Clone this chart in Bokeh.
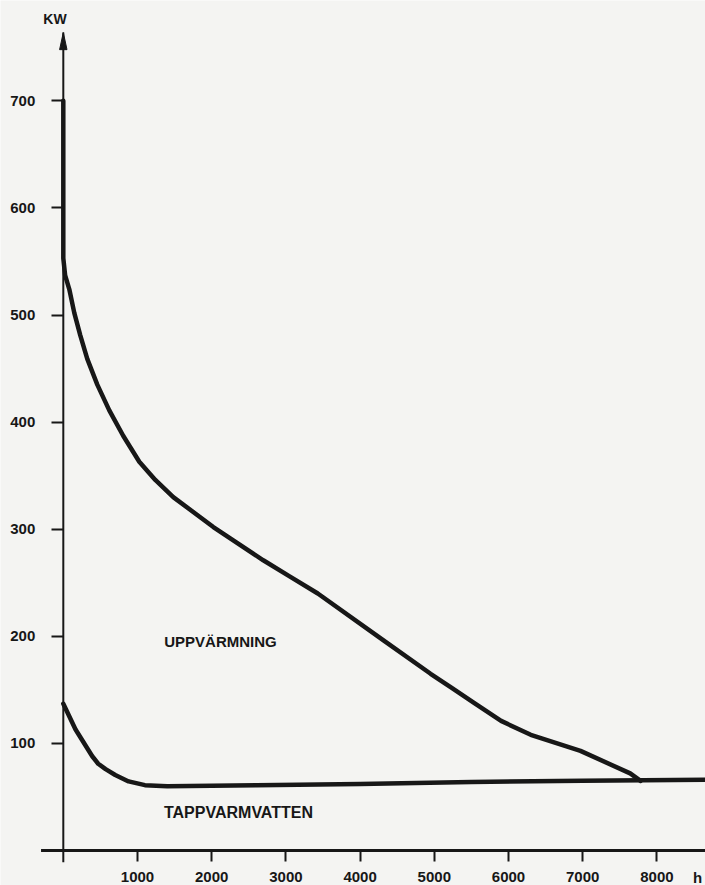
from bokeh.plotting import figure
from bokeh.models import LinearAxis, FixedTicker, Range1d, Label
from bokeh.embed import file_html
from bokeh.resources import INLINE

# --- data (hours per year vs. kW) ---
heat_hours = [0, 0, 25, 81, 148, 229, 323, 458, 620, 809, 1024, 1240, 1482, 2022,
              2695, 3050, 3430, 4320, 4950, 5230, 5530, 5900, 6300, 6970, 7640, 7780]
heat_kw = [700, 553, 537, 524, 502, 481, 459, 435, 411, 387, 363, 346, 330, 302,
           271, 256, 240, 196, 165, 152, 138, 121, 108, 93, 72, 65]

water_hours = [0, 165, 390, 470, 570, 700, 880, 1100, 1400, 2600, 4000, 5500, 7000, 8760]
water_kw = [137, 113, 88, 81, 76, 70.5, 64.5, 61, 60, 61, 62, 64, 65, 66]

x_ticks = [1000, 2000, 3000, 4000, 5000, 6000, 7000, 8000]
y_ticks = [100, 200, 300, 400, 500, 600, 700]

x_unit = "h"
y_unit = "KW"
heat_label = "UPPVÄRMNING"
water_label = "TAPPVARMVATTEN"

INK = "#171717"
PAPER = "#f4f4f2"

W, H = 705, 885
x_start, x_end = -846.4, 8655
y_start, y_end = -32.7, 793.7
x_axis_from = -300      # where the drawn x axis begins (left overshoot)
y_axis_from = -11       # where the drawn y axis begins (bottom overshoot)
y_axis_tip = 763.8      # top of the arrow

p = figure(width=W, height=H, output_backend="svg", toolbar_location=None,
           x_range=Range1d(x_start, x_end), y_range=Range1d(y_start, y_end),
           x_axis_type=None, y_axis_type=None, title=None,
           min_border_left=0, min_border_right=0, min_border_top=0, min_border_bottom=0)
p.outline_line_color = None
p.background_fill_color = PAPER
p.border_fill_color = PAPER

# axes crossing at the origin (ticks and labels from Bokeh; lines drawn below)
xaxis = LinearAxis(fixed_location=0, ticker=FixedTicker(ticks=x_ticks))
yaxis = LinearAxis(fixed_location=0, ticker=FixedTicker(ticks=y_ticks))
for ax in (xaxis, yaxis):
    ax.axis_line_color = None
    ax.major_tick_line_color = INK
    ax.major_tick_line_width = 2
    ax.major_tick_in = 0
    ax.minor_tick_in = 0
    ax.minor_tick_out = 0
    ax.major_label_text_font = "Liberation Sans"
    ax.major_label_text_font_style = "bold"
    ax.major_label_text_color = INK
xaxis.major_tick_out = 11
xaxis.major_label_standoff = 11
xaxis.major_label_text_font_size = "15px"
yaxis.major_tick_out = 12
yaxis.major_label_standoff = 16
yaxis.major_label_text_font_size = "15px"
p.add_layout(xaxis, "below")
p.add_layout(yaxis, "left")

# axis lines
p.segment(x0=[x_axis_from], y0=[0], x1=[x_end], y1=[0], line_color=INK, line_width=3)
p.segment(x0=[0], y0=[y_axis_from], x1=[0], y1=[y_axis_tip], line_color=INK, line_width=2)

# arrow head on the y axis
head_len = 16.0
head_half = 50.0
p.patch([0, -head_half, head_half], [y_axis_tip, y_axis_tip - head_len, y_axis_tip - head_len],
        fill_color=INK, line_color=INK, line_width=1)

# curves
p.line(heat_hours, heat_kw, line_color=INK, line_width=4.5, line_join="round", line_cap="round")
p.line(water_hours, water_kw, line_color=INK, line_width=4.5, line_join="round", line_cap="round")

# texts
p.add_layout(Label(x=2119, y=195, text=heat_label, text_align="center", text_baseline="middle",
                   text_font="Liberation Sans", text_font_style="bold", text_font_size="15px",
                   text_color=INK))
p.add_layout(Label(x=2361, y=35.5, text=water_label, text_align="center", text_baseline="middle",
                   text_font="Liberation Sans", text_font_style="bold", text_font_size="16px",
                   text_color=INK))
p.add_layout(Label(x=-112, y=776, text=y_unit, text_align="center", text_baseline="middle",
                   text_font="Liberation Sans", text_font_style="bold", text_font_size="14px",
                   text_color=INK))
p.add_layout(Label(x=8547, y=-25.2, text=x_unit, text_align="center", text_baseline="middle",
                   text_font="Liberation Sans", text_font_style="bold", text_font_size="15px",
                   text_color=INK))

open("out.html", "w").write(file_html(p, INLINE))
